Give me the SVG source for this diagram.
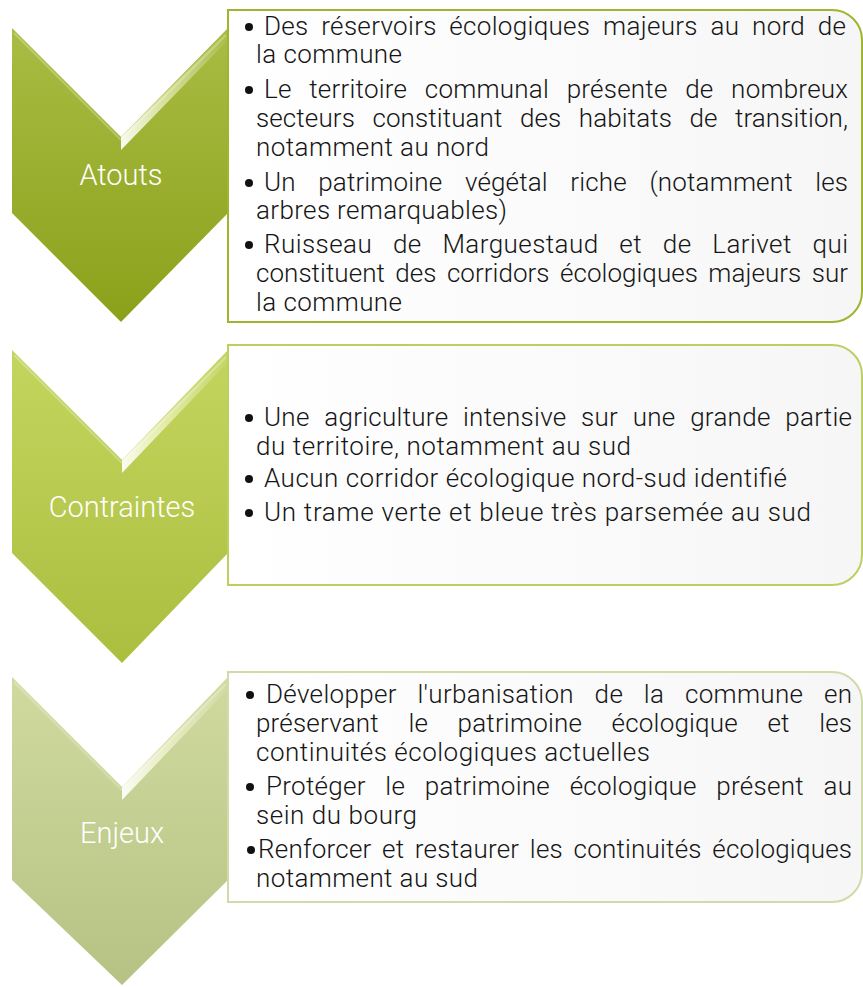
<svg xmlns="http://www.w3.org/2000/svg" width="863" height="987" viewBox="0 0 863 987">
<defs>
<linearGradient id="g1" x1="0" y1="0" x2="0" y2="1"><stop offset="0" stop-color="#a9bc44"/><stop offset="1" stop-color="#8ba11a"/></linearGradient>
<linearGradient id="g2" x1="0" y1="0" x2="0" y2="1"><stop offset="0" stop-color="#c4d55f"/><stop offset="1" stop-color="#abbe3e"/></linearGradient>
<linearGradient id="g3" x1="0" y1="0" x2="0" y2="1"><stop offset="0" stop-color="#d0da9f"/><stop offset="1" stop-color="#b6c284"/></linearGradient>
<linearGradient id="bx" x1="0" y1="0" x2="1" y2="0"><stop offset="0" stop-color="#ffffff"/><stop offset="1" stop-color="#f6f6f6"/></linearGradient>
<linearGradient id="shine" x1="0" y1="1" x2="1" y2="0"><stop offset="0" stop-color="#ffffff" stop-opacity="0.95"/><stop offset="0.5" stop-color="#ffffe0" stop-opacity="0.5"/><stop offset="1" stop-color="#ffffff" stop-opacity="0"/></linearGradient>
</defs>
<style>
.t{font-family:Roboto,"Liberation Sans",sans-serif;font-weight:300;font-size:26px;fill:#151515}
.lbl{font-family:Roboto,"Liberation Sans",sans-serif;font-weight:300;font-size:29px;fill:#ffffff;text-anchor:middle}
.bul{fill:#111}
.edge{fill:none;stroke:#ffffff;stroke-opacity:0.25;stroke-width:2}
</style>

<g id="chevron-atouts">
<path d="M12,28 L121,137 L228,28 L228,213 L121,322 L12,213 Z" fill="url(#g1)"/>
<path d="M14,33 L121,140 M121,140 L226,35" class="edge"/>
<path d="M121,137 L228,30 L228,40 L121,150 Z" fill="url(#shine)"/>
<text class="lbl" x="121" y="185">Atouts</text>
</g>
<g id="box-atouts">
<path d="M228,10 H832 A30,30 0 0 1 862,40 V292 A30,30 0 0 1 832,322 H228 Z" fill="url(#bx)" stroke="#9db52f" stroke-width="2"/>
<circle class="bul" cx="249" cy="27" r="4"/>
<text class="t" x="264" y="35" textLength="582" word-spacing="6">Des réservoirs écologiques majeurs au nord de</text>
<text class="t" x="256" y="63" textLength="146">la commune</text>
<circle class="bul" cx="249" cy="90" r="4"/>
<text class="t" x="264" y="98" textLength="584" word-spacing="11">Le territoire communal présente de nombreux</text>
<text class="t" x="256" y="127" textLength="592" word-spacing="11">secteurs constituant des habitats de transition,</text>
<text class="t" x="256" y="156" textLength="233">notamment au nord</text>
<circle class="bul" cx="249" cy="183" r="4"/>
<text class="t" x="264" y="191" textLength="584" word-spacing="16">Un patrimoine végétal riche (notamment les</text>
<text class="t" x="256" y="219" textLength="251">arbres remarquables)</text>
<circle class="bul" cx="249" cy="245" r="4"/>
<text class="t" x="264" y="253" textLength="584" word-spacing="14">Ruisseau de Marguestaud et de Larivet qui</text>
<text class="t" x="256" y="282" textLength="592" word-spacing="4">constituent des corridors écologiques majeurs sur</text>
<text class="t" x="256" y="311" textLength="146">la commune</text>
</g>

<g id="chevron-contraintes">
<path d="M12,350 L122,460 L228,350 L228,553 L122,663 L12,553 Z" fill="url(#g2)"/>
<path d="M14,355 L122,463 M122,463 L226,357" class="edge"/>
<path d="M122,460 L228,352 L228,362 L122,473 Z" fill="url(#shine)"/>
<text class="lbl" x="122" y="517">Contraintes</text>
</g>
<g id="box-contraintes">
<path d="M228,345 H832 A30,30 0 0 1 862,375 V555 A30,30 0 0 1 832,585 H228 Z" fill="url(#bx)" stroke="#bcd062" stroke-width="2"/>
<circle class="bul" cx="249" cy="418" r="4"/>
<text class="t" x="264" y="426" textLength="588" word-spacing="8">Une agriculture intensive sur une grande partie</text>
<text class="t" x="256" y="455" textLength="375">du territoire, notamment au sud</text>
<circle class="bul" cx="249" cy="479" r="4"/>
<text class="t" x="264" y="487" textLength="523">Aucun corridor écologique nord-sud identifié</text>
<circle class="bul" cx="249" cy="513" r="4"/>
<text class="t" x="264" y="521" textLength="547">Un trame verte et bleue très parsemée au sud</text>
</g>

<g id="chevron-enjeux">
<path d="M12,677 L122,787 L228,677 L228,880 L122,985 L12,880 Z" fill="url(#g3)"/>
<path d="M14,682 L122,790 M122,790 L226,684" class="edge"/>
<path d="M122,787 L228,679 L228,689 L122,800 Z" fill="url(#shine)"/>
<text class="lbl" x="122" y="843">Enjeux</text>
</g>
<g id="box-enjeux">
<path d="M228,672 H832 A30,30 0 0 1 862,702 V872 A30,30 0 0 1 832,902 H228 Z" fill="url(#bx)" stroke="#cfdba8" stroke-width="2"/>
<circle class="bul" cx="250" cy="695" r="4"/>
<text class="t" x="266" y="703" textLength="586" word-spacing="14">Développer l'urbanisation de la commune en</text>
<text class="t" x="256" y="732" textLength="596" word-spacing="23">préservant le patrimoine écologique et les</text>
<text class="t" x="256" y="761" textLength="394">continuités écologiques actuelles</text>
<circle class="bul" cx="250" cy="787" r="4"/>
<text class="t" x="266" y="795" textLength="586" word-spacing="13">Protéger le patrimoine écologique présent au</text>
<text class="t" x="256" y="824" textLength="161">sein du bourg</text>
<circle class="bul" cx="251" cy="850" r="4"/>
<text class="t" x="258" y="858" textLength="594" word-spacing="4">Renforcer et restaurer les continuités écologiques</text>
<text class="t" x="256" y="887" textLength="222">notamment au sud</text>
</g>
</svg>
